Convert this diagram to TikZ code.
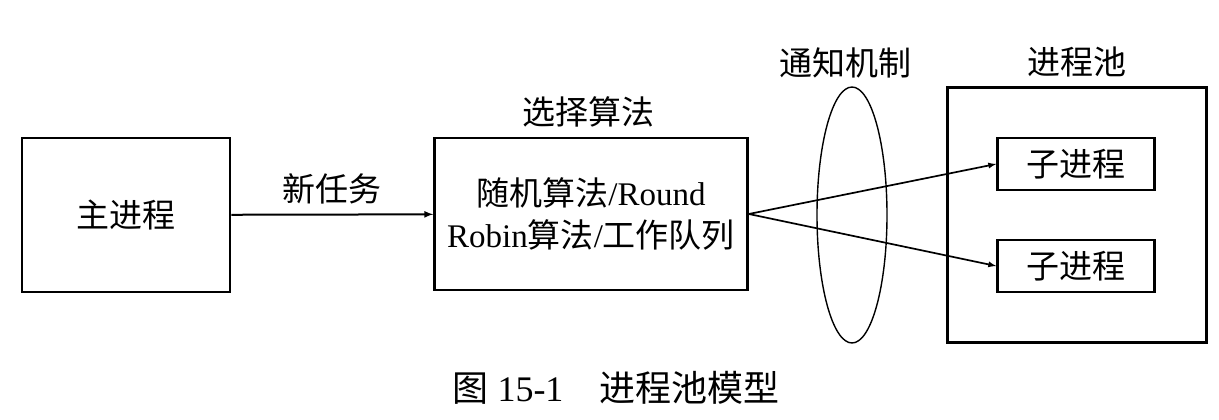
\documentclass[tikz,border=0pt]{standalone}
\usepackage{fontspec}
\setmainfont{Liberation Serif}
\newfontfamily\cjk{Noto Sans CJK SC}
\usepackage{tikz}
\usetikzlibrary{arrows}
\usetikzlibrary{shapes.geometric}

\begin{document}
\begin{tikzpicture}[x = 1pt, y = -1pt, auto = center,
    box/.style = {draw, line width = 2.6pt, rectangle},
    lbl/.style = {font = \fontsize{33}{42}\selectfont\cjk}]
          \useasboundingbox (0,0) rectangle (1219,420);
          \node[box, minimum width = 208, minimum height = 154] (main) at (126,215) {};
          \node[lbl] at (main) {主进程};
          \node[box, minimum width = 313, minimum height = 152, align = center,
                font = \fontsize{33}{42}\selectfont] (algo) at (591,214)
                {{\cjk 随机算法}/Round\\ Robin{\cjk 算法}/{\cjk 工作队列}};
          \node[lbl] (algotitle) at (588,112) {选择算法};
          \node[draw, line width = 1.4pt, ellipse, inner sep = 0,
                minimum width = 70, minimum height = 256] (notify) at (852,215) {};
          \node[lbl] (notifytitle) at (845,63) {通知机制};
          \node[box, minimum width = 259, minimum height = 255] (pool) at (1077,215) {};
          \node[lbl] (pooltitle) at (1077,62) {进程池};
          \node[box, minimum width = 157, minimum height = 52] (child1) at (1076,164) {};
          \node[lbl] at (child1) {子进程};
          \node[box, minimum width = 157, minimum height = 52] (child2) at (1076,266) {};
          \node[lbl] at (child2) {子进程};
          \draw[line width = 2pt, -latex] (main) -- node[lbl, above = 6pt] (task) {新任务} (algo);
          \draw[line width = 1.7pt, -latex] (algo.east) -- (child1.west);
          \draw[line width = 1.7pt, -latex] (algo.east) -- (child2.west);
          \node[font = \fontsize{36}{40}\selectfont] (caption) at (616,388)
                {{\cjk 图} 15-1\hspace{1em}{\cjk 进程池模型}};
        \end{tikzpicture}
\end{document}
